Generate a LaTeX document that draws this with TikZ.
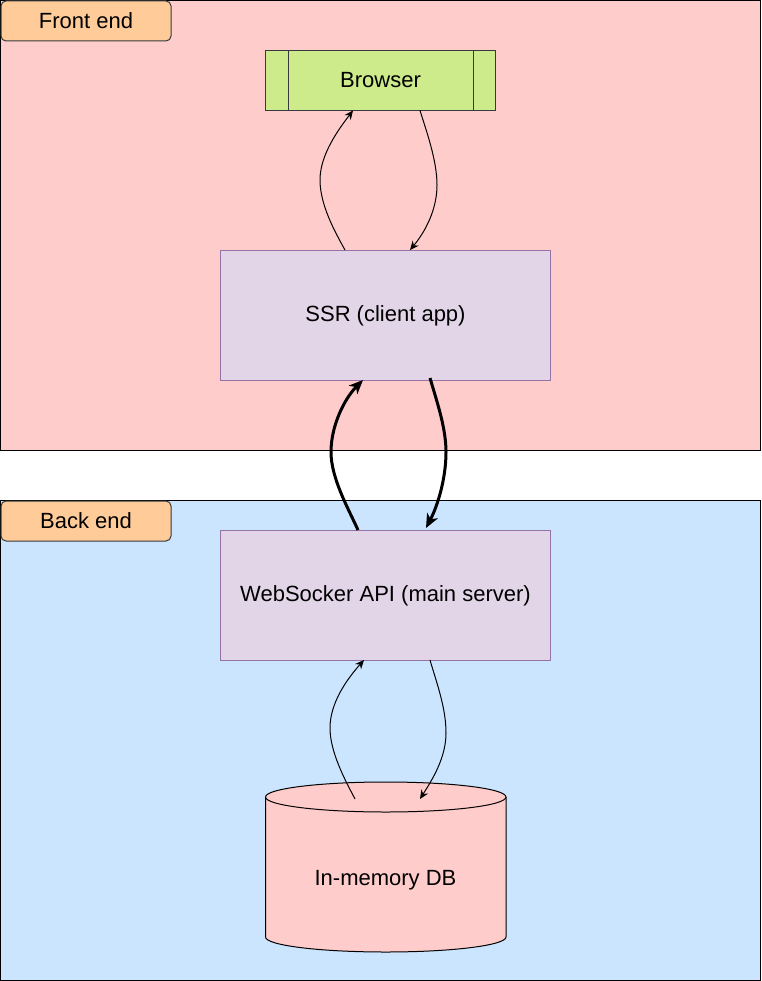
\documentclass[tikz,border=0pt]{standalone}
\usepackage{fontspec}
\setmainfont{Liberation Sans}
\usetikzlibrary{arrows.meta}
\definecolor{frontfill}{HTML}{FFCCCC}
\definecolor{backfill}{HTML}{CCE5FF}
\definecolor{labelfill}{HTML}{FFCC99}
\definecolor{darkstroke}{HTML}{36393D}
\definecolor{browserfill}{HTML}{CDEB8B}
\definecolor{purplefill}{HTML}{E1D5E7}
\definecolor{purplestroke}{HTML}{9673A6}
\tikzset{
  container/.style={draw=black, line width=1pt},
  tag/.style={draw=darkstroke, fill=labelfill, rounded corners=5pt, line width=1pt,
    minimum width=170pt, minimum height=40pt, inner sep=0pt, anchor=north west},
  box/.style={draw=purplestroke, fill=purplefill, line width=1pt,
    minimum width=330pt, minimum height=130pt, inner sep=0pt},
  thin/.style={line width=1pt, -{Stealth[length=9pt,width=8pt,inset=3pt]}},
  thick/.style={line width=3pt, -{Stealth[length=14pt,width=12pt,inset=4pt]}},
  every node/.style={font=\fontsize{22}{24}\selectfont}
}
\begin{document}
\begin{tikzpicture}[x=1pt,y=1pt]
\useasboundingbox (0,0) rectangle (761,-981);
% containers
\draw[container, fill=frontfill] (0.5,-0.5) rectangle (760.5,-450.5);
\draw[container, fill=backfill] (0.5,-500.5) rectangle (760.5,-980.5);
\node[tag] (fe) at (0.5,-0.5) {Front end};
\node[tag] (be) at (0.5,-500.5) {Back end};
% browser (process shape)
\node[draw=darkstroke, fill=browserfill, line width=1pt, minimum width=230pt,
  minimum height=60pt, inner sep=0pt] (browser) at (380.5,-80.5) {Browser};
\draw[darkstroke, line width=1pt] ([xshift=23pt]browser.north west) -- ([xshift=23pt]browser.south west);
\draw[darkstroke, line width=1pt] ([xshift=-23pt]browser.north east) -- ([xshift=-23pt]browser.south east);
% SSR and API
\node[box] (ssr) at (385.5,-315.5) {SSR (client app)};
\node[box] (api) at (385.5,-595.5) {WebSocker API (main server)};
% cylinder
\filldraw[fill=frontfill, draw=black, line width=1pt]
  (265.5,-797) -- (265.5,-937) arc[start angle=180,end angle=360,x radius=120.25pt,y radius=15pt]
  -- (506,-797) arc[start angle=0,end angle=180,x radius=120.25pt,y radius=15pt] -- cycle;
\draw[black, line width=1pt] (265.5,-797) arc[start angle=180,end angle=360,x radius=120.25pt,y radius=15pt];
\node (db) at (385.5,-880) {In-memory DB};
% connector end points
\coordinate (s1) at (345,-250);
\coordinate (b1) at (353,-110.5);
\coordinate (b2) at (420,-110.5);
\coordinate (s2) at (410,-250);
\coordinate (a1) at (358,-530);
\coordinate (s3) at (363,-380);
\coordinate (s4) at (430,-378);
\coordinate (a2) at (426,-528);
\coordinate (d1) at (355,-799);
\coordinate (a3) at (364,-660);
\coordinate (a4) at (430,-660);
\coordinate (d2) at (420,-799);
% connectors
\draw[thin] (s1) .. controls (335,-232) and (320,-205) .. (320,-180)
  .. controls (320,-155) and (338,-130) .. (b1);
\draw[thin] (b2) .. controls (426,-130) and (437,-160) .. (437,-185)
  .. controls (437,-210) and (425,-232) .. (s2);
\draw[thick] (a1) .. controls (348,-508) and (331,-478) .. (331,-452)
  .. controls (331,-425) and (345,-398) .. (s3);
\draw[thick] (s4) .. controls (437,-402) and (446,-428) .. (446,-452)
  .. controls (446,-478) and (438,-505) .. (a2);
\draw[thin] (d1) .. controls (345,-780) and (330,-752) .. (330,-728)
  .. controls (330,-702) and (348,-678) .. (a3);
\draw[thin] (a4) .. controls (437,-684) and (446,-708) .. (446,-733)
  .. controls (446,-758) and (432,-780) .. (d2);
\end{tikzpicture}
\end{document}
